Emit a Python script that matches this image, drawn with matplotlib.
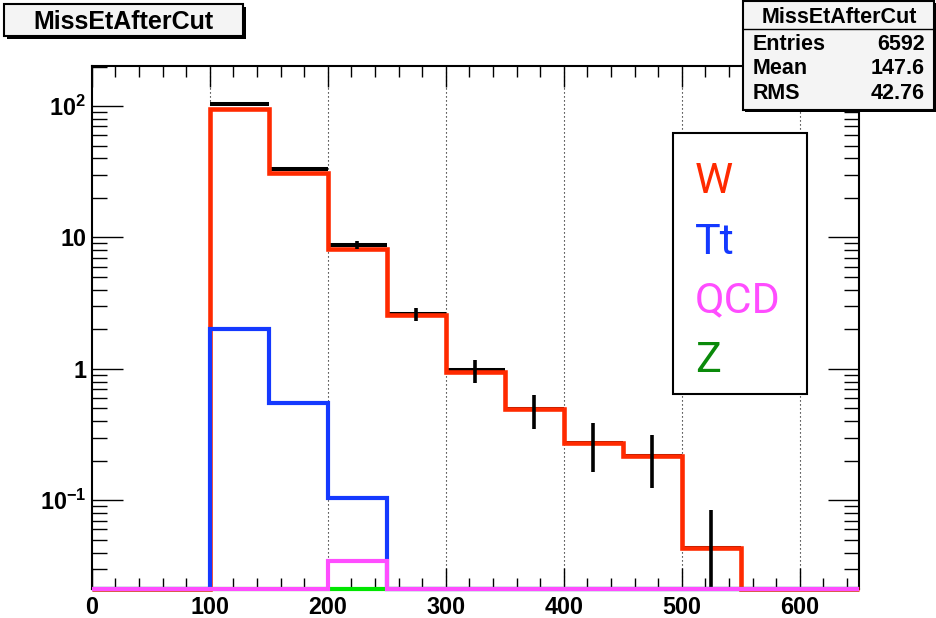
import numpy as np
import matplotlib
matplotlib.use("Agg")
import matplotlib.pyplot as plt
from matplotlib.patches import Rectangle
from matplotlib.ticker import FixedLocator, FixedFormatter, LogLocator, NullFormatter, MultipleLocator

plt.rcParams['font.family'] = ['Liberation Sans', 'DejaVu Sans']
plt.rcParams['font.weight'] = 'bold'
plt.rcParams['mathtext.fontset'] = 'custom'
plt.rcParams['mathtext.rm'] = 'Liberation Sans:bold'
plt.rcParams['mathtext.it'] = 'Liberation Sans:bold'
plt.rcParams['mathtext.bf'] = 'Liberation Sans:bold'
plt.rcParams['mathtext.default'] = 'rm'

# ---- histogram content (50 GeV bins, 0-650) ----
bin_edges = np.arange(0, 651, 50)
data_vals = [0, 0, 103.0, 33.5, 8.77, 2.62, 0.975, 0.491, 0.275, 0.217, 0.0434, 0, 0]
data_errs = [0, 0, 2.1, 1.2, 0.61, 0.31, 0.19, 0.145, 0.11, 0.094, 0.041, 0, 0]
w_vals = [0, 0, 95.0, 31.2, 8.18, 2.58, 0.942, 0.491, 0.275, 0.217, 0.0434, 0, 0]
tt_vals = [0, 0, 2.01, 0.546, 0.104, 0, 0, 0, 0, 0, 0, 0, 0]
qcd_vals = [0, 0, 0, 0, 0.0347, 0, 0, 0, 0, 0, 0, 0, 0]
z_vals = [0, 0, 0, 0, 0, 0, 0, 0, 0, 0, 0, 0, 0]

legend_names = ["W", "Tt", "QCD", "Z"]
stat_title = "MissEtAfterCut"
stat_names = ["Entries", "Mean", "RMS"]
stat_values = ["6592", "147.6", "42.76"]

y_lo, y_hi = 0.0211, 202.0

RED = '#ff2a00'
BLUE = '#1439ff'
MAGENTA = '#ff4dff'
GREEN_LINE = '#00e600'
GREEN_TEXT = '#0a8a0a'

W, H = 937, 618
fig = plt.figure(figsize=(W / 100, H / 100), dpi=100)
fig.patch.set_facecolor('white')


def fx(x):
    return x / W


def fy(y):
    return 1 - y / H


ax_l, ax_r, ax_t, ax_b = 91.7, 858.7, 66, 589
ax = fig.add_axes([fx(ax_l), fy(ax_b), fx(ax_r) - fx(ax_l), fy(ax_t) - fy(ax_b)])
ax.set_yscale('log')
ax.set_xlim(0, 650)
ax.set_ylim(y_lo, y_hi)

# vertical dotted grid at major x ticks
for gx in range(100, 650, 100):
    ax.axvline(gx, color='black', lw=0.8, ls=(0, (1, 2.6)), zorder=1)

edges = bin_edges
centers = 0.5 * (edges[:-1] + edges[1:])


def clipped(v):
    return np.maximum(np.asarray(v, float), y_lo)


# data: horizontal bin segments + vertical error bars
dv = np.asarray(data_vals, float)
de = np.asarray(data_errs, float)
nz = dv > 0
ax.hlines(dv[nz], edges[:-1][nz], edges[1:][nz], color='black', lw=2.9, zorder=2)

# stacked contributions as outline histograms
ax.stairs(clipped(w_vals), edges, baseline=y_lo, color=RED, lw=3.3, zorder=3, clip_on=False)
ax.vlines(centers[nz], np.maximum(dv[nz] - de[nz], y_lo), dv[nz] + de[nz],
          color='black', lw=2.6, zorder=3.5)
ax.stairs(clipped(tt_vals), edges, baseline=y_lo, color=BLUE, lw=3.0, zorder=4, clip_on=False)
ax.stairs(clipped(z_vals), edges, baseline=y_lo, color=GREEN_LINE, lw=3.0, zorder=5, clip_on=False)
ax.stairs(clipped(qcd_vals), edges, baseline=y_lo, color=MAGENTA, lw=3.0, zorder=6, clip_on=False)

# axes styling
for s in ax.spines.values():
    s.set_linewidth(1.5)
    s.set_zorder(2.5)

ax.xaxis.set_major_locator(MultipleLocator(100))
ax.xaxis.set_minor_locator(MultipleLocator(20))
ax.yaxis.set_major_locator(FixedLocator([0.1, 1, 10, 100]))
ax.yaxis.set_major_formatter(FixedFormatter([r'$10^{-1}$', '1', '10', r'$10^{2}$']))
ax.yaxis.set_minor_locator(LogLocator(base=10, subs=np.arange(2, 10), numticks=20))
ax.yaxis.set_minor_formatter(NullFormatter())

ax.tick_params(axis='both', which='both', direction='in', top=True, right=True,
               labelsize=16.8, width=1.0, color='black')
ax.tick_params(axis='x', which='major', length=15, pad=5)
ax.tick_params(axis='x', which='minor', length=8)
ax.tick_params(axis='y', which='major', length=22, pad=4)
ax.tick_params(axis='y', which='minor', length=11)
for lab in ax.get_xticklabels() + ax.get_yticklabels():
    lab.set_fontweight('bold')


def box(x0, y0, x1, y1, face='#f4f4f4', lw=1.5, shadow=3, z=20):
    if shadow:
        fig.patches.append(Rectangle((fx(x0 + shadow), fy(y1 + shadow)),
                                     fx(x1) - fx(x0), fy(y0) - fy(y1),
                                     transform=fig.transFigure, facecolor='black',
                                     edgecolor='none', zorder=z - 1))
    fig.patches.append(Rectangle((fx(x0), fy(y1)), fx(x1) - fx(x0), fy(y0) - fy(y1),
                                 transform=fig.transFigure, facecolor=face,
                                 edgecolor='black', lw=lw, zorder=z))


# title box
box(4, 4, 243, 36, shadow=3)
fig.text(fx(123.3), fy(21.7), stat_title, ha='center', va='center',
         fontsize=18, fontweight='bold', zorder=25)

# statistics box
box(743.3, 1, 934, 110, shadow=2)
fig.lines.append(plt.Line2D([fx(743.3), fx(934)], [fy(29.3), fy(29.3)],
                            transform=fig.transFigure, color='black', lw=1.0, zorder=22))
fig.text(fx(839), fy(17.5), stat_title, ha='center', va='center',
         fontsize=15.5, fontweight='bold', zorder=25)
for i, (nm, val) in enumerate(zip(stat_names, stat_values)):
    yy = [44, 69, 93.5][i]
    fig.text(fx(753), fy(yy), nm, ha='left', va='center', fontsize=15.5,
             fontweight='bold', zorder=25)
    fig.text(fx(925), fy(yy), val, ha='right', va='center', fontsize=15.5,
             fontweight='bold', zorder=25)

# legend box
box(673.3, 133.3, 806.7, 394, face='white', shadow=0, lw=1.5, z=20)
leg_colors = [RED, BLUE, MAGENTA, GREEN_TEXT]
for nm, col, base in zip(legend_names, leg_colors, [193, 254, 312, 372]):
    fig.text(fx(695), fy(base), nm, ha='left', va='baseline', color=col,
             fontsize=31, fontweight='normal', family=['Roboto', 'DejaVu Sans'], zorder=25)

fig.savefig('out.png', dpi=100)
